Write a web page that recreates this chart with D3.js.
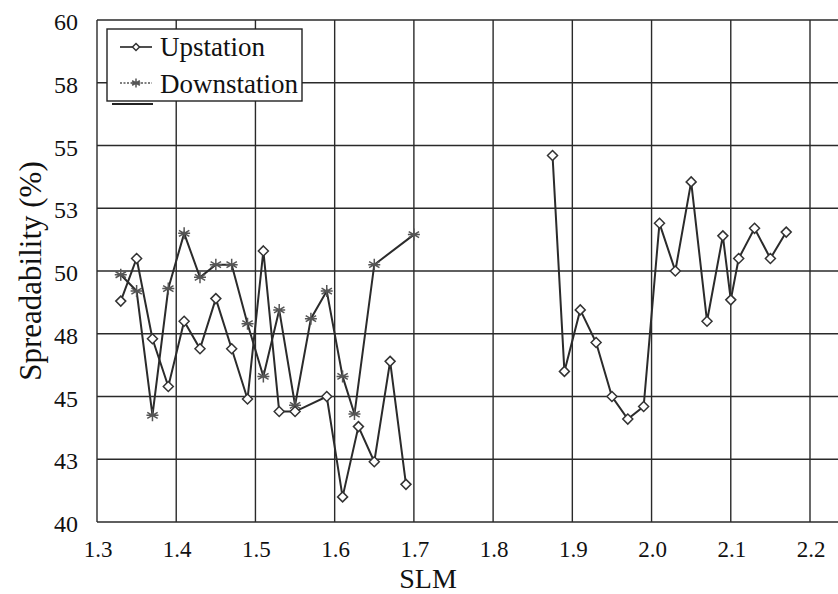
<!DOCTYPE html>
<html>
<head>
<meta charset="utf-8">
<script src="https://cdn.jsdelivr.net/npm/d3@7"></script>
<style>
  body { margin: 0; background: #fff; }
</style>
</head>
<body>
<div id="chart"></div>
<script>
// values
const upSlm = [1.33, 1.35, 1.37, 1.39, 1.41, 1.43, 1.45, 1.47, 1.49, 1.51, 1.53, 1.55, 1.59, 1.61, 1.63, 1.65, 1.67, 1.69,
               1.875, 1.89, 1.91, 1.93, 1.95, 1.97, 1.99, 2.01, 2.03, 2.05, 2.07, 2.09, 2.10, 2.11, 2.13, 2.15, 2.17];
const upValues = [48.8, 50.5, 47.3, 45.4, 48.0, 46.9, 48.9, 46.9, 44.9, 50.8, 44.4, 44.4, 45.0, 41.0, 43.8, 42.4, 46.4, 41.5,
                  54.6, 46.0, 48.45, 47.15, 45.0, 44.1, 44.6, 51.9, 50.0, 53.55, 48.0, 51.4, 48.85, 50.5, 51.7, 50.5, 51.55];
const downSlm = [1.33, 1.35, 1.37, 1.39, 1.41, 1.43, 1.45, 1.47, 1.49, 1.51, 1.53, 1.55, 1.57, 1.59, 1.61, 1.625, 1.65, 1.70];
const downValues = [49.85, 49.2, 44.25, 49.3, 51.5, 49.75, 50.25, 50.25, 47.9, 45.8, 48.45, 44.65, 48.1, 49.2, 45.8, 44.3, 50.25, 51.45];

const xTicks = [1.3, 1.4, 1.5, 1.6, 1.7, 1.8, 1.9, 2.0, 2.1, 2.2];
const xTickLabels = ["1.3", "1.4", "1.5", "1.6", "1.7", "1.8", "1.9", "2.0", "2.1", "2.2"];
const yTicks = [40, 42.5, 45, 47.5, 50, 52.5, 55, 57.5, 60];
const yTickLabels = ["40", "43", "45", "48", "50", "53", "55", "58", "60"];
const seriesNames = ["Upstation", "Downstation"];

const W = 838, H = 594;
const plotLeft = 97, plotRight = 838, plotTop = 20, plotBottom = 522;
const serif = "'Liberation Serif'";

const svg = d3.select("#chart").append("svg")
    .attr("width", W)
    .attr("height", H);

const x = d3.scaleLinear().domain([1.3, 2.2]).range([plotLeft, 810]);
const y = d3.scaleLinear().domain([40, 60]).range([plotBottom, plotTop]);

const gridColor = "#2a2a2a";

// horizontal grid
svg.append("g").selectAll("line")
    .data(yTicks)
    .enter().append("line")
    .attr("x1", plotLeft).attr("x2", plotRight)
    .attr("y1", d => y(d)).attr("y2", d => y(d))
    .style("stroke", gridColor)
    .style("stroke-width", 1.4);

// vertical grid
svg.append("g").selectAll("line")
    .data(xTicks)
    .enter().append("line")
    .attr("x1", d => x(d)).attr("x2", d => x(d))
    .attr("y1", plotTop).attr("y2", plotBottom)
    .style("stroke", gridColor)
    .style("stroke-width", 1.4);

// tick labels
svg.append("g").selectAll("text")
    .data(xTicks)
    .enter().append("text")
    .attr("x", d => x(d) + 1)
    .attr("y", 557)
    .attr("text-anchor", "middle")
    .style("font-family", serif)
    .style("font-size", "23px")
    .style("fill", "#111")
    .text((d, i) => xTickLabels[i]);

svg.append("g").selectAll("text")
    .data(yTicks)
    .enter().append("text")
    .attr("x", 78)
    .attr("y", d => y(d) + 10)
    .attr("text-anchor", "end")
    .style("font-family", serif)
    .style("font-size", "24px")
    .style("fill", "#111")
    .text((d, i) => yTickLabels[i]);

svg.append("text")
    .attr("x", 428).attr("y", 588)
    .attr("text-anchor", "middle")
    .style("font-family", serif)
    .style("font-size", "28px")
    .style("fill", "#111")
    .text("SLM");

svg.append("text")
    .attr("transform", "translate(41,271) rotate(-90)")
    .attr("text-anchor", "middle")
    .style("font-family", serif)
    .style("font-size", "31px")
    .style("fill", "#111")
    .text("Spreadability (%)");

let line = d3.line()
    .x(d => x(d[0]))
    .y(d => y(d[1]));

// upstation: two runs with a gap in the middle
let upPts = upSlm.map((s, i) => [s, upValues[i]]);
let upRuns = [upPts.filter(d => d[0] < 1.8), upPts.filter(d => d[0] > 1.8)];
let downPts = downSlm.map((s, i) => [s, downValues[i]]);

svg.append("path")
    .attr("d", line(downPts))
    .style("fill", "none")
    .style("stroke", "#2b2b2b")
    .style("stroke-width", 2);

upRuns.forEach(run => {
    svg.append("path")
        .attr("d", line(run))
        .style("fill", "none")
        .style("stroke", "#2b2b2b")
        .style("stroke-width", 2);
});

function diamond(g, cx, cy, r) {
    g.append("path")
        .attr("d", `M${cx},${cy - r}L${cx + r},${cy}L${cx},${cy + r}L${cx - r},${cy}Z`)
        .style("fill", "#fff")
        .style("stroke", "#333")
        .style("stroke-width", 1.5);
}

function star(g, cx, cy, r) {
    let p = "";
    [0, 60, 120].forEach(a => {
        let rad = a * Math.PI / 180;
        p += `M${cx - r * Math.sin(rad)},${cy - r * Math.cos(rad)}L${cx + r * Math.sin(rad)},${cy + r * Math.cos(rad)}`;
    });
    p += `M${cx - r},${cy}L${cx + r},${cy}`;
    g.append("path")
        .attr("d", p)
        .style("stroke", "#555")
        .style("stroke-width", 1.5);
}

let marks = svg.append("g");
downPts.forEach(d => star(marks, x(d[0]), y(d[1]), 6));
upPts.forEach(d => diamond(marks, x(d[0]), y(d[1]), 5));

// legend
let lg = svg.append("g");
lg.append("line")
    .attr("x1", 112).attr("x2", 153).attr("y1", 104).attr("y2", 104)
    .style("stroke", "#222").style("stroke-width", 2);
lg.append("rect")
    .attr("x", 107).attr("y", 29)
    .attr("width", 195).attr("height", 72)
    .style("fill", "#fff")
    .style("stroke", "#222")
    .style("stroke-width", 1.4);

lg.append("line")
    .attr("x1", 120).attr("x2", 152).attr("y1", 47).attr("y2", 47)
    .style("stroke", "#222").style("stroke-width", 1.6);
diamond(lg, 136, 47, 3.5);
lg.append("line")
    .attr("x1", 120).attr("x2", 152).attr("y1", 83).attr("y2", 83)
    .style("stroke", "#555").style("stroke-width", 1.4)
    .style("stroke-dasharray", "2,1.5");
star(lg, 136, 83, 4.5);

lg.selectAll(".lbl")
    .data(seriesNames)
    .enter().append("text")
    .attr("x", 160)
    .attr("y", (d, i) => 56 + i * 37)
    .style("font-family", serif)
    .style("font-size", "27px")
    .style("fill", "#111")
    .text(d => d);
</script>
</body>
</html>
